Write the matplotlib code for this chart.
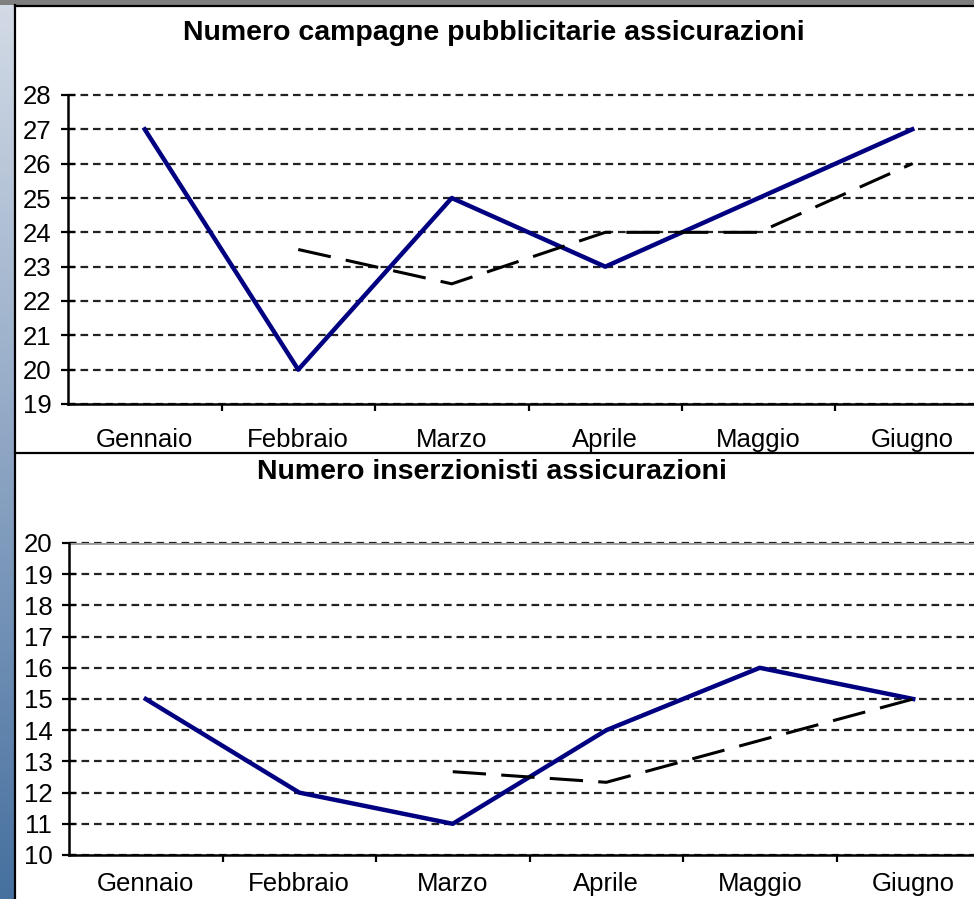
import numpy as np
import matplotlib
matplotlib.use("Agg")
import matplotlib.pyplot as plt
from matplotlib.patches import Rectangle

plt.rcParams['font.family'] = ['Liberation Sans', 'DejaVu Sans']
plt.rcParams['lines.scale_dashes'] = False

months = ['Gennaio', 'Febbraio', 'Marzo', 'Aprile', 'Maggio', 'Giugno']

# Numero campagne pubblicitarie
campagne = [27, 20, 25, 23, 25, 27]
campagne_trend = [23.5, 22.5, 24, 24, 26]          # media mobile (2 periodi), Feb-Giu

# Numero inserzionisti
inserzionisti = [15, 12, 11, 14, 16, 15]
inserzionisti_trend = [12.67, 12.33, 13.67, 15]    # media mobile (3 periodi), Mar-Giu

W, H = 974, 899
fig = plt.figure(figsize=(W / 100, H / 100), dpi=100)

# window frame / background
bg = fig.add_axes([0, 0, 1, 1], zorder=0)
bg.set_xlim(0, W)
bg.set_ylim(H, 0)
bg.axis('off')
grad = np.linspace(0, 1, 256).reshape(-1, 1)
cmap = matplotlib.colors.LinearSegmentedColormap.from_list('frame', ['#d3dbe6', '#8ea6c4', '#46709f'])
bg.imshow(grad, cmap=cmap, extent=(0, 14, H, 0), aspect='auto')
bg.add_patch(Rectangle((0, 0), W, 5, color='#7f7f7f', lw=0))
bg.plot([15, 15], [5, H], color='black', lw=1.6)
bg.plot([15, W], [6, 6], color='black', lw=1.6)
bg.plot([15, W], [453, 453], color='black', lw=1.6)


def px_axes(left, right, top, bottom):
    return fig.add_axes([left / W, 1 - bottom / H, (right - left) / W, (bottom - top) / H], zorder=2)


def style_axes(ax, ymin, ymax, xpad):
    x = np.arange(len(months))
    ax.set_facecolor('none')
    ax.set_xlim(-0.5, len(months) - 0.5)
    ax.set_ylim(ymin, ymax)
    ax.set_yticks(range(ymin, ymax + 1))
    ax.set_xticks(x)
    ax.set_xticklabels(months)
    ax.set_xticks(x[:-1] + 0.5, minor=True)
    ax.tick_params(axis='x', which='major', length=0, pad=xpad, labelsize=18.5)
    ax.tick_params(axis='x', which='minor', length=5, width=1.6, direction='out')
    ax.tick_params(axis='y', length=10, width=1.6, direction='inout', pad=7, labelsize=18.5)
    for s in ['top', 'right']:
        ax.spines[s].set_visible(False)
    for s in ['left', 'bottom']:
        ax.spines[s].set_linewidth(1.8)
    ax.yaxis.grid(True, color='#222222', linewidth=1.6, linestyle=(0, (5.5, 3.5)))
    for gl in ax.get_ygridlines():
        gl.set_clip_on(False)
    ax.set_axisbelow(True)


x = np.arange(len(months))

# grafico 1
ax1 = px_axes(68, 989, 95, 404)
style_axes(ax1, 19, 28, 17)
ax1.plot(x, campagne, color='#000080', lw=3.2, zorder=3)
ax1.plot(x[1:], campagne_trend, color='black', lw=2.2, linestyle=(0, (24, 11)), zorder=3)
fig.text(494 / W, 1 - 33 / H, 'Numero campagne pubblicitarie assicurazioni',
         ha='center', va='center', fontsize=20.5, fontweight='bold')

# grafico 2
ax2 = px_axes(69, 990, 543, 855)
style_axes(ax2, 10, 20, 12)
ax2.plot(x, inserzionisti, color='#000080', lw=3.2, zorder=3)
ax2.plot(x[2:], inserzionisti_trend, color='black', lw=2.2, linestyle=(0, (24, 11)), zorder=3)
ax2.axhline(20, color='#999999', lw=2, zorder=2)
fig.text(492 / W, 1 - 472 / H, 'Numero inserzionisti assicurazioni',
         ha='center', va='center', fontsize=20.5, fontweight='bold')

fig.savefig('out.png', dpi=100)
